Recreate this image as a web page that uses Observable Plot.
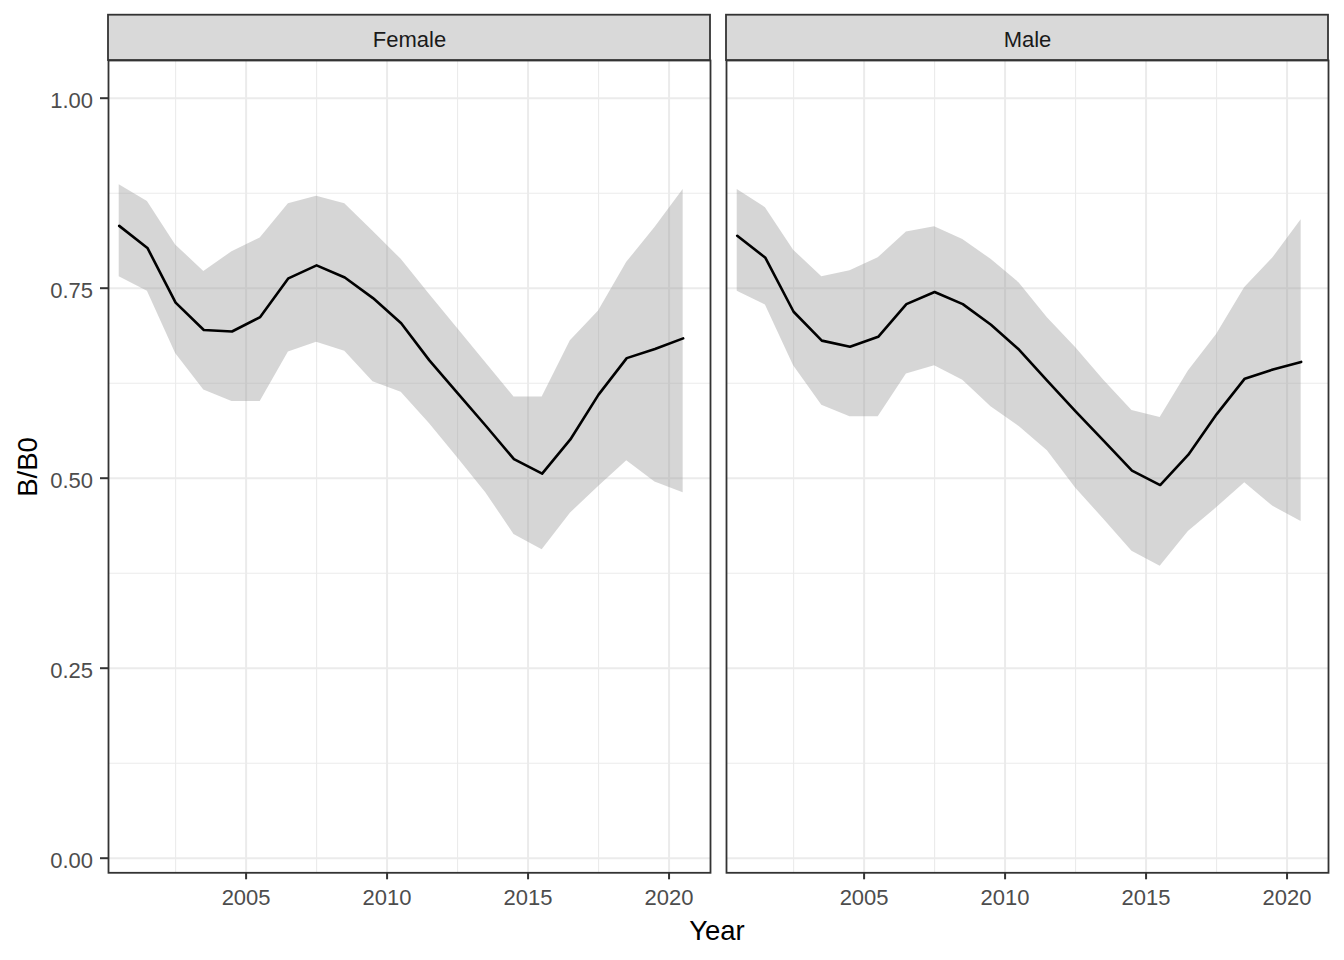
<!DOCTYPE html>
<html>
<head>
<meta charset="utf-8">
<script src="https://cdn.jsdelivr.net/npm/d3@7"></script>
<script src="https://cdn.jsdelivr.net/npm/@observablehq/plot@0.6"></script>
<style>
  html, body { margin: 0; padding: 0; background: #fff; }
  #chart { width: 1344px; height: 960px; }
</style>
</head>
<body>
<div id="chart"></div>
<script>
const sexes = ["Female", "Male"];
const years = [2000.5, 2001.5, 2002.5, 2003.5, 2004.5, 2005.5, 2006.5, 2007.5, 2008.5, 2009.5,
               2010.5, 2011.5, 2012.5, 2013.5, 2014.5, 2015.5, 2016.5, 2017.5, 2018.5, 2019.5, 2020.5];

const femaleEst = [0.832, 0.803, 0.731, 0.695, 0.693, 0.712, 0.763, 0.780, 0.764, 0.737, 0.704,
                   0.655, 0.612, 0.569, 0.525, 0.506, 0.551, 0.610, 0.658, 0.670, 0.684];
const femaleHi  = [0.886, 0.864, 0.807, 0.772, 0.798, 0.816, 0.861, 0.871, 0.861, 0.825, 0.788,
                   0.742, 0.697, 0.652, 0.607, 0.607, 0.681, 0.720, 0.784, 0.830, 0.880];
const femaleLo  = [0.765, 0.746, 0.664, 0.616, 0.601, 0.601, 0.666, 0.679, 0.667, 0.627, 0.613,
                   0.572, 0.527, 0.481, 0.426, 0.406, 0.454, 0.489, 0.523, 0.495, 0.481];

const maleEst = [0.819, 0.790, 0.719, 0.681, 0.673, 0.686, 0.729, 0.745, 0.729, 0.702, 0.669,
                 0.628, 0.588, 0.549, 0.510, 0.491, 0.531, 0.584, 0.631, 0.643, 0.653];
const maleHi  = [0.880, 0.856, 0.800, 0.765, 0.773, 0.790, 0.824, 0.831, 0.814, 0.788, 0.757,
                 0.711, 0.672, 0.629, 0.589, 0.580, 0.641, 0.689, 0.751, 0.790, 0.840];
const maleLo  = [0.746, 0.728, 0.648, 0.596, 0.581, 0.581, 0.637, 0.648, 0.629, 0.594, 0.568,
                 0.536, 0.487, 0.446, 0.404, 0.384, 0.430, 0.461, 0.494, 0.463, 0.443];

const xTicks = [2005, 2010, 2015, 2020];
const xMinor = [2002.5, 2007.5, 2012.5, 2017.5];
const yTicks = [0, 0.25, 0.5, 0.75, 1];
const yMinor = [0.125, 0.375, 0.625, 0.875];
const xTitle = "Year";
const yTitle = "B/B0";

const xDomain = [2000.12, 2021.47];
const yDomain = [-0.0192, 1.0496];
const stripTop = 1.1092;
const stripMid = 1.0772;

const series = {
  Female: {est: femaleEst, lo: femaleLo, hi: femaleHi},
  Male: {est: maleEst, lo: maleLo, hi: maleHi}
};
const rows = sexes.flatMap(s => years.map((yr, i) => ({
  sex: s, year: yr, est: series[s].est[i], lo: series[s].lo[i], hi: series[s].hi[i]
})));
const strips = sexes.map(s => ({sex: s}));

const font = "'Liberation Sans', Arial, Helvetica, sans-serif";

const plot = Plot.plot({
  width: 1344,
  height: 960,
  marginLeft: 108.3,
  marginRight: 15.5,
  marginTop: 60,
  marginBottom: 87.7,
  style: {fontFamily: font, background: "#fff"},
  fx: {domain: sexes, axis: null, paddingInner: 0.0256, paddingOuter: 0},
  x: {domain: xDomain},
  y: {domain: yDomain},
  marks: [
    Plot.gridX(xMinor, {stroke: "#EBEBEB", strokeOpacity: 1, strokeWidth: 1.1}),
    Plot.gridY(yMinor, {stroke: "#EBEBEB", strokeOpacity: 1, strokeWidth: 1.1}),
    Plot.gridX(xTicks, {stroke: "#EBEBEB", strokeOpacity: 1, strokeWidth: 2}),
    Plot.gridY(yTicks, {stroke: "#EBEBEB", strokeOpacity: 1, strokeWidth: 2}),
    Plot.areaY(rows, {fx: "sex", x: "year", y1: "lo", y2: "hi", fill: "#999999", fillOpacity: 0.4}),
    Plot.lineY(rows, {fx: "sex", x: "year", y: "est", stroke: "#000", strokeWidth: 2.6}),
    Plot.frame({stroke: "#333333", strokeWidth: 1.8}),
    Plot.rect(strips, {fx: "sex", x1: () => xDomain[0], x2: () => xDomain[1],
      y1: () => yDomain[1], y2: () => stripTop, fill: "#D9D9D9", stroke: "#333333", strokeWidth: 1.8}),
    Plot.text(strips, {fx: "sex", x: () => (xDomain[0] + xDomain[1]) / 2, y: () => stripMid,
      text: "sex", fill: "#1A1A1A", fontSize: 22}),
    Plot.axisX(xTicks, {anchor: "bottom", tickSize: 7, tickPadding: 10, stroke: "#333333",
      strokeWidth: 2, fill: "#4D4D4D", fontSize: 22, label: null, tickFormat: d => String(d)}),
    Plot.axisY(yTicks, {anchor: "left", tickSize: 8, stroke: "#333333",
      strokeWidth: 2, label: null, tickFormat: () => ""}),
    Plot.axisY(yTicks, {anchor: "left", tickSize: 0, tickPadding: 15.5, dy: 2.4,
      fill: "#4D4D4D", fontSize: 22, label: null, tickFormat: d => d.toFixed(2)})
  ]
});

document.getElementById("chart").appendChild(plot);

const svg = d3.select(plot);
svg.append("text")
  .attr("x", 717).attr("y", 940)
  .attr("text-anchor", "middle")
  .attr("font-family", font).attr("font-size", 27.5).attr("fill", "#000")
  .text(xTitle);
svg.append("text")
  .attr("transform", "translate(37.3,467) rotate(-90)")
  .attr("text-anchor", "middle")
  .attr("font-family", font).attr("font-size", 27.5).attr("fill", "#000")
  .text(yTitle);
</script>
</body>
</html>
